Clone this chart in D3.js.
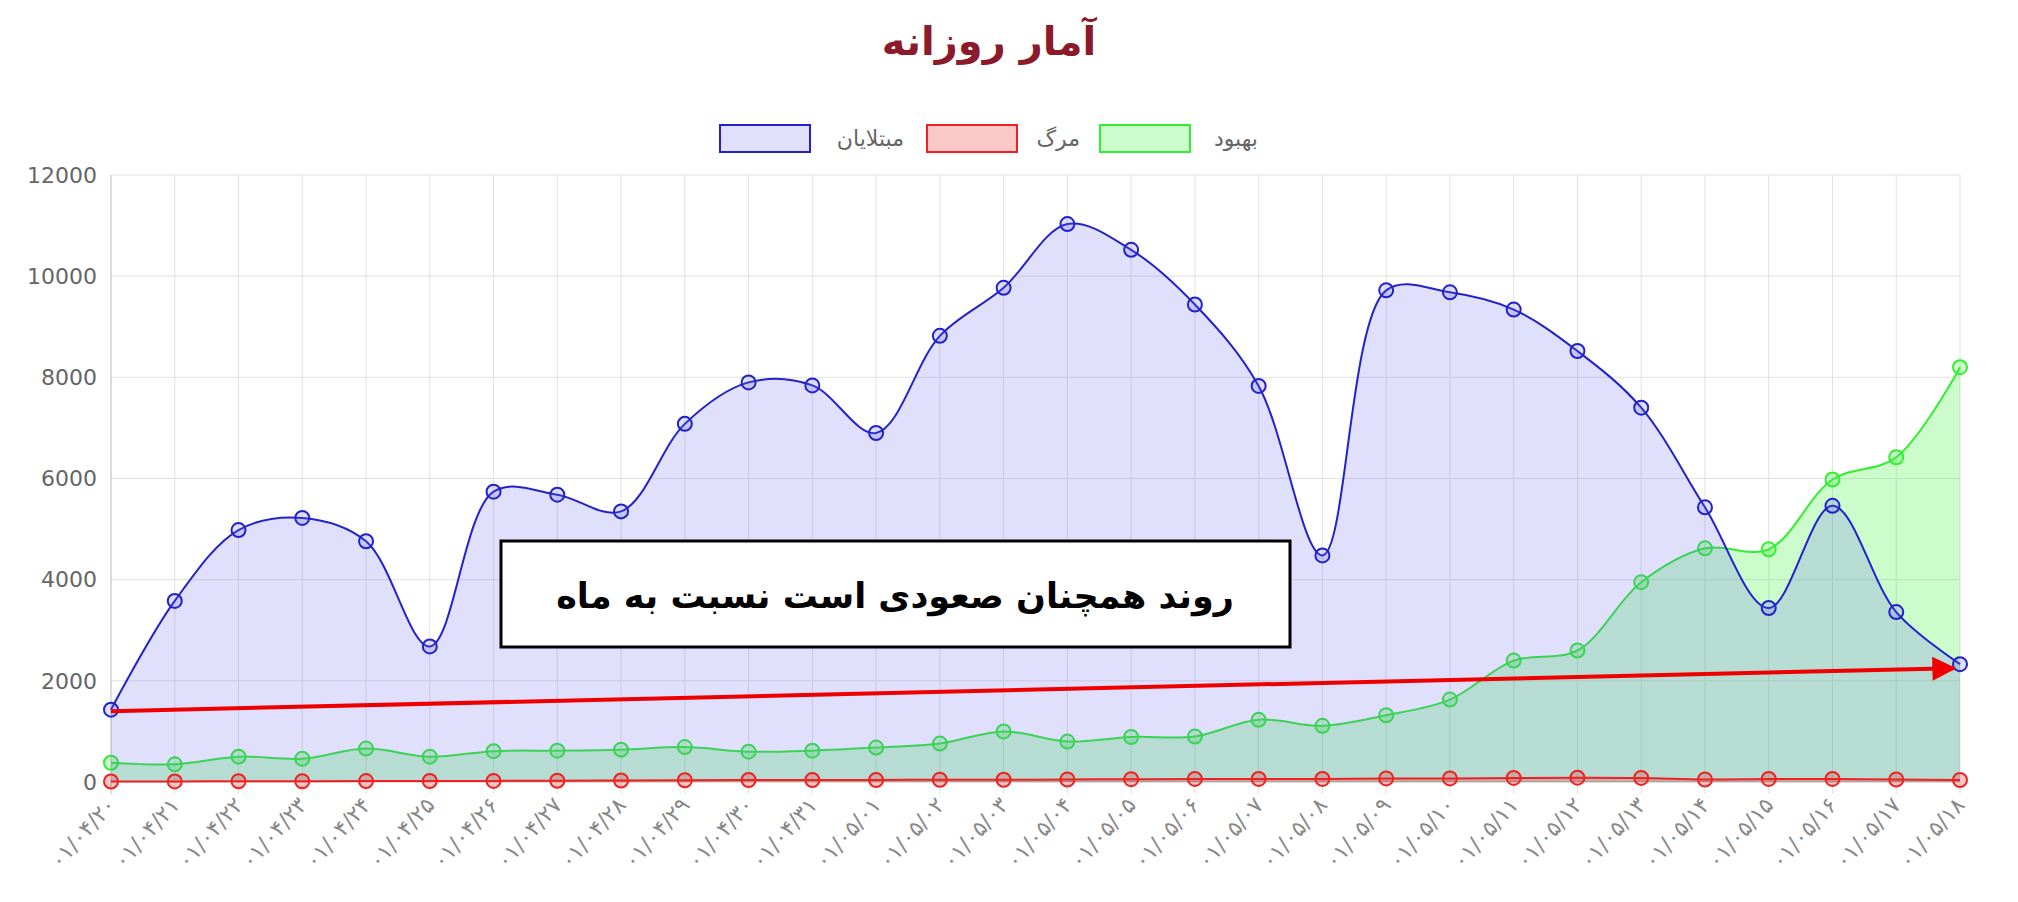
<!DOCTYPE html>
<html><head><meta charset="utf-8">
<script src="https://cdn.jsdelivr.net/npm/d3@7"></script>
<style>
body{margin:0;background:#fff;}
text{font-family:"DejaVu Sans",sans-serif;}
</style></head>
<body><svg id="chart" width="2018" height="902"></svg>
<script>
const dates = ["۰۱/۰۴/۲۰","۰۱/۰۴/۲۱","۰۱/۰۴/۲۲","۰۱/۰۴/۲۳","۰۱/۰۴/۲۴","۰۱/۰۴/۲۵","۰۱/۰۴/۲۶","۰۱/۰۴/۲۷","۰۱/۰۴/۲۸","۰۱/۰۴/۲۹","۰۱/۰۴/۳۰","۰۱/۰۴/۳۱",
  "۰۱/۰۵/۰۱","۰۱/۰۵/۰۲","۰۱/۰۵/۰۳","۰۱/۰۵/۰۴","۰۱/۰۵/۰۵","۰۱/۰۵/۰۶","۰۱/۰۵/۰۷","۰۱/۰۵/۰۸","۰۱/۰۵/۰۹","۰۱/۰۵/۱۰","۰۱/۰۵/۱۱","۰۱/۰۵/۱۲","۰۱/۰۵/۱۳","۰۱/۰۵/۱۴","۰۱/۰۵/۱۵","۰۱/۰۵/۱۶","۰۱/۰۵/۱۷","۰۱/۰۵/۱۸"];
const infected = [1430,3580,4980,5220,4760,2680,5740,5680,5350,7080,7900,7840,6900,8820,9770,11030,10520,9440,7830,4480,9720,9680,9340,8520,7400,5430,3440,5460,3360,2330];
const deaths = [10,12,15,15,18,20,22,25,30,35,40,40,40,45,45,50,55,60,60,60,70,70,80,85,80,50,60,60,50,40];
const recovered = [380,350,500,460,660,500,610,620,640,690,600,620,680,760,1000,800,890,900,1230,1110,1320,1630,2400,2600,3950,4620,4600,5980,6420,8200];
const yTicks = [0,2000,4000,6000,8000,10000,12000];
const trend = [1400, 2250]; // arrow start / end values

const svg = d3.select("#chart");
const L = 111, R = 1960, T = 175, B = 782;
const x = d3.scalePoint().domain(d3.range(dates.length)).range([L, R]);
const y = d3.scaleLinear().domain([0, 12000]).range([B, T]);

// grid
svg.append("g").selectAll("line").data(yTicks).join("line")
  .attr("x1", L).attr("x2", R).attr("y1", d => y(d)).attr("y2", d => y(d))
  .attr("stroke", d => d ? "#e2e2e2" : "#bbb");
svg.append("g").selectAll("line").data(d3.range(dates.length)).join("line")
  .attr("x1", d => x(d)).attr("x2", d => x(d)).attr("y1", T).attr("y2", B + 12)
  .attr("stroke", d => d ? "#e2e2e2" : "#bbb");
svg.append("g").selectAll("text").data(yTicks).join("text")
  .attr("x", L - 14).attr("y", d => y(d)).attr("dy", "0.35em").attr("text-anchor", "end")
  .attr("font-size", 22).attr("fill", "#666").text(d => d);
svg.append("g").selectAll("text").data(dates).join("text")
  .attr("transform", (d, i) => `translate(${x(i) + 6},${B + 24}) rotate(-48)`)
  .attr("text-anchor", "end").attr("font-size", 22).attr("fill", "#888").text(d => d);

const series = [
  {vals: recovered, stroke: "#33ee33", fill: "rgba(51,238,51,0.25)"},
  {vals: infected, stroke: "#2222cc", fill: "rgba(100,100,240,0.2)"},
  {vals: deaths, stroke: "#ee2222", fill: "rgba(238,34,34,0.25)"}
];
const curve = d3.curveCatmullRom.alpha(0.5);
series.forEach(s => {
  svg.append("path").datum(s.vals)
    .attr("d", d3.area().x((d, i) => x(i)).y0(B).y1(d => y(d)).curve(curve))
    .attr("fill", s.fill);
  svg.append("path").datum(s.vals)
    .attr("d", d3.line().x((d, i) => x(i)).y(d => y(d)).curve(curve))
    .attr("fill", "none").attr("stroke", s.stroke).attr("stroke-width", 2);
  svg.append("g").selectAll("circle").data(s.vals).join("circle")
    .attr("cx", (d, i) => x(i)).attr("cy", d => y(d)).attr("r", 7)
    .attr("fill", s.fill).attr("stroke", s.stroke).attr("stroke-width", 2);
});

// title
svg.append("text").attr("x", 989).attr("y", 55).attr("text-anchor", "middle")
  .attr("font-size", 40).attr("font-weight", "bold").attr("fill", "#8b1a2b").text("آمار روزانه");

// legend
const legend = [
  {name: "مبتلایان", stroke: "#2222cc", fill: "rgba(100,100,240,0.2)", bx: 720, tx: 904},
  {name: "مرگ", stroke: "#ee2222", fill: "rgba(238,34,34,0.25)", bx: 927, tx: 1080},
  {name: "بهبود", stroke: "#33ee33", fill: "rgba(51,238,51,0.25)", bx: 1100, tx: 1258}
];
legend.forEach(l => {
  svg.append("rect").attr("x", l.bx).attr("y", 125).attr("width", 90).attr("height", 27)
    .attr("fill", l.fill).attr("stroke", l.stroke).attr("stroke-width", 2);
  svg.append("text").attr("x", l.tx).attr("y", 138).attr("dy", "0.35em").attr("text-anchor", "end")
    .attr("font-size", 22).attr("fill", "#666").text(l.name);
});

// annotation box
svg.append("rect").attr("x", 501).attr("y", 541).attr("width", 789).attr("height", 106)
  .attr("fill", "#fff").attr("stroke", "#000").attr("stroke-width", 3);
svg.append("text").attr("x", 895).attr("y", 596).attr("dy", "0.35em").attr("text-anchor", "middle")
  .attr("font-size", 35).attr("font-weight", "bold").attr("fill", "#000").text("روند همچنان صعودی است نسبت به ماه");

// trend arrow
svg.append("defs").append("marker").attr("id", "ah").attr("viewBox", "0 0 10 10")
  .attr("refX", 9).attr("refY", 5).attr("markerWidth", 28).attr("markerHeight", 24)
  .attr("markerUnits", "userSpaceOnUse").attr("orient", "auto")
  .append("path").attr("d", "M0,0L10,5L0,10Z").attr("fill", "#e00");
svg.append("line").attr("x1", x(0)).attr("y1", y(trend[0]))
  .attr("x2", x(dates.length - 1) - 6).attr("y2", y(trend[1]))
  .attr("stroke", "#e00").attr("stroke-width", 4).attr("marker-end", "url(#ah)");
</script></body></html>
